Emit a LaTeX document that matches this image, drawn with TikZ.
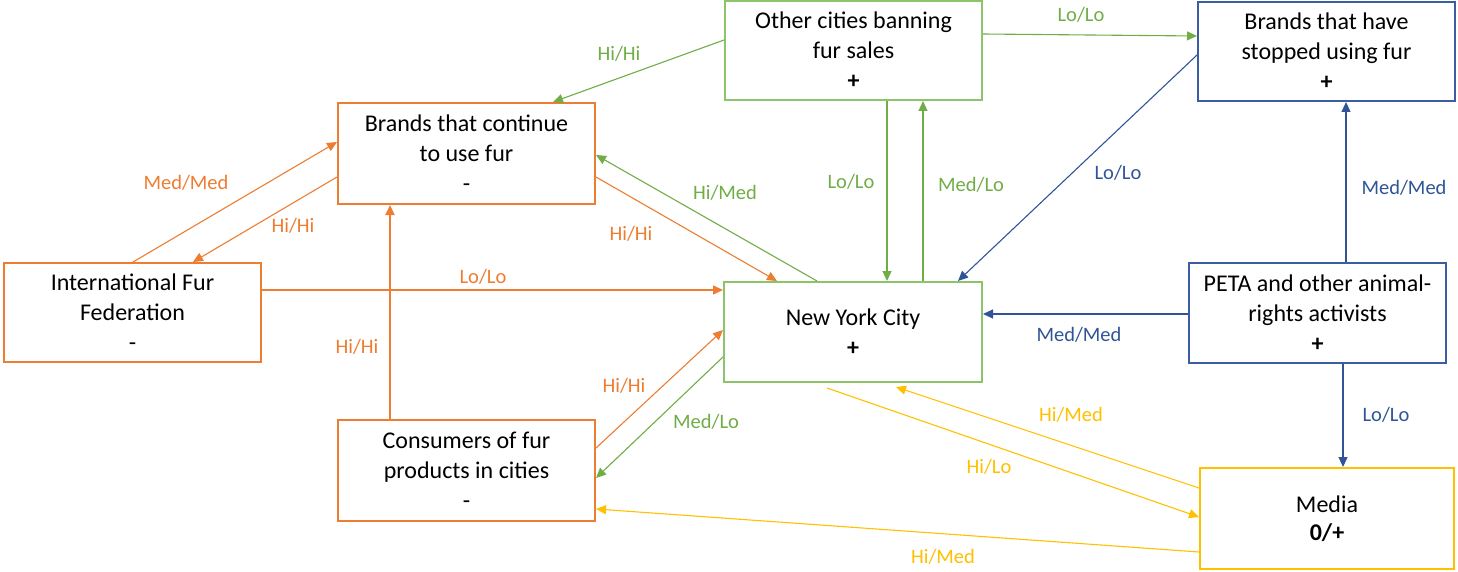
\documentclass[tikz,border=0pt]{standalone}
\usepackage{fontspec}
\setmainfont{Carlito}
\usetikzlibrary{arrows.meta,calc}
\definecolor{cOr}{HTML}{ED7D31}
\definecolor{cGr}{HTML}{70AD47}
\definecolor{cGrBox}{HTML}{8CC46A}
\definecolor{cBl}{HTML}{2F5597}
\definecolor{cBlBox}{HTML}{3B5EA3}
\definecolor{cYe}{HTML}{FFC000}
\begin{document}
\begin{tikzpicture}[x=1pt,y=-1pt,
  box/.style={draw, line width=2pt, inner sep=0pt, align=center,
    font=\fontsize{24}{30}\selectfont, text=black},
  lbl/.style={font=\fontsize{20.5}{24}\selectfont, inner sep=0pt},
  arr/.style={line width=1.1pt, -{Triangle[length=10pt,width=9pt]}},
]
\useasboundingbox (0,0) rectangle (1458,572);

% boxes
\node[box, draw=cGrBox, minimum width=257pt, minimum height=99pt] (oc) at (853.5,50.5) {Other cities banning\\fur sales\\\textbf{+}};
\node[box, draw=cBlBox, minimum width=257pt, minimum height=99pt] (bs) at (1326.5,51.5) {Brands that have\\stopped using fur\\\textbf{+}};
\node[box, draw=cOr, minimum width=257pt, minimum height=101pt] (bc) at (466.5,153.5) {Brands that continue\\to use fur\\-};
\node[box, draw=cOr, minimum width=257pt, minimum height=99pt] (iff) at (132.5,312.5) {International Fur\\Federation\\-};
\node[box, draw=cGrBox, minimum width=258pt, minimum height=100pt] (nyc) at (853,332) {New York City\\\textbf{+}};
\node[box, draw=cBlBox, minimum width=257pt, minimum height=100pt] (peta) at (1317.5,313) {PETA and other animal-\\rights activists\\\textbf{+}};
\node[box, draw=cOr, minimum width=257pt, minimum height=101pt] (cf) at (466.5,470.5) {Consumers of fur\\products in cities\\-};
\node[box, draw=cYe, minimum width=254pt, minimum height=101pt, font=\fontsize{24}{28}\selectfont] (media) at (1327,518.5) {Media\\\textbf{0/+}};

% connectors
\draw[arr, cGr] (oc.west |- 0,40) -- (553,0 |- bc.north);
\draw[arr, cGr] (oc.east |- 0,34) -- (bs.west |- 0,36);
\draw[arr, cGr] (887,0 |- oc.south) -- (887,0 |- nyc.north);
\draw[arr, cGr] (923,0 |- nyc.north) -- (923,0 |- oc.south);
\draw[arr, cBl] (bs.west |- 0,55) -- (958,0 |- nyc.north);
\draw[arr, cBl] (1346,0 |- peta.north) -- (1346,0 |- bs.south);
\draw[arr, cBl] (peta.west |- 0,314) -- (nyc.east |- 0,314);
\draw[arr, cBl] (1343,0 |- peta.south) -- (1343,0 |- media.north);
\draw[arr, cOr] (bc.west |- 0,177) -- (193,0 |- iff.north);
\draw[arr, cOr] (133,0 |- iff.north) -- (bc.west |- 0,142);
\draw[arr, cOr, line width=1.5pt] (iff.east |- 0,290) -- (nyc.west |- 0,290);
\draw[arr, cOr, line width=2pt] (390,0 |- cf.north) -- (390,0 |- bc.south);
\draw[arr, cOr] (bc.east |- 0,177) -- (777,0 |- nyc.north);
\draw[arr, cGr] (817,0 |- nyc.north) -- (bc.east |- 0,155);
\draw[arr, cOr] (cf.east |- 0,448) -- (nyc.west |- 0,330);
\draw[arr, cGr] (nyc.west |- 0,357) -- (cf.east |- 0,478);
\draw[arr, cYe] (media.west |- 0,488) -- ($(896,0 |- nyc.south)+(0,4)$);
\draw[arr, cYe] ($(827,0 |- nyc.south)+(0,5)$) -- (media.west |- 0,517);
\draw[arr, cYe] (media.west |- 0,552) -- (cf.east |- 0,509);

% labels
\node[lbl, text=cGr] (l1) at (619,54) {Hi/Hi};
\node[lbl, text=cGr] (l2) at (1081,15) {Lo/Lo};
\node[lbl, text=cGr] (l3) at (851,182) {Lo/Lo};
\node[lbl, text=cGr] (l4) at (971,185) {Med/Lo};
\node[lbl, text=cBl] (l5) at (1118,173) {Lo/Lo};
\node[lbl, text=cBl] (l6) at (1404,188) {Med/Med};
\node[lbl, text=cBl] (l7) at (1079,335) {Med/Med};
\node[lbl, text=cBl] (l8) at (1386,415) {Lo/Lo};
\node[lbl, text=cOr] (l9) at (293,226) {Hi/Hi};
\node[lbl, text=cOr] (l10) at (186,183) {Med/Med};
\node[lbl, text=cOr] (l11) at (483,277) {Lo/Lo};
\node[lbl, text=cOr] (l12) at (357,347) {Hi/Hi};
\node[lbl, text=cOr] (l13) at (631,234) {Hi/Hi};
\node[lbl, text=cGr] (l14) at (725,193) {Hi/Med};
\node[lbl, text=cOr] (l15) at (624,386) {Hi/Hi};
\node[lbl, text=cGr] (l16) at (706,422) {Med/Lo};
\node[lbl, text=cYe] (l17) at (1071,415) {Hi/Med};
\node[lbl, text=cYe] (l18) at (989,467) {Hi/Lo};
\node[lbl, text=cYe] (l19) at (943,557) {Hi/Med};
\end{tikzpicture}
\end{document}
